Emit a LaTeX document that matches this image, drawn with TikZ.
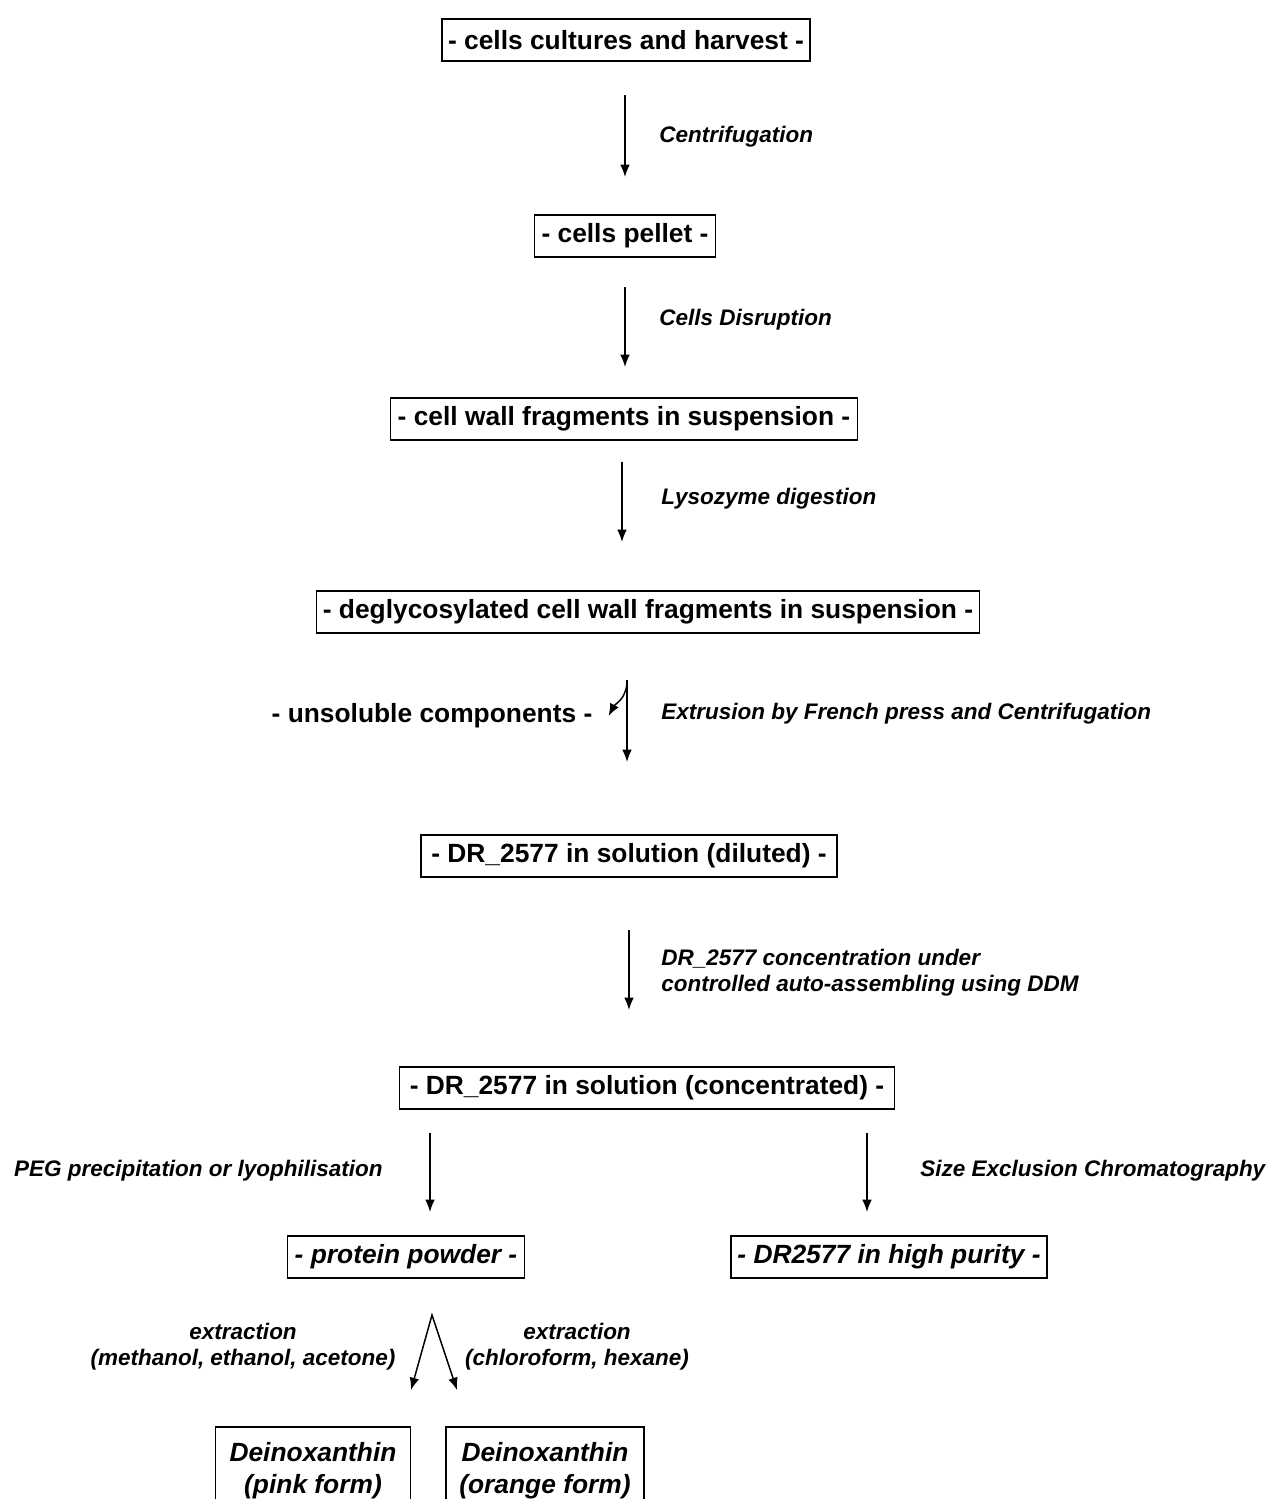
\documentclass[tikz,border=0pt]{standalone}
\usepackage{fontspec}
\setmainfont{Liberation Sans}
\usepackage{tikz}
\usetikzlibrary{arrows.meta,positioning,calc}

\tikzset{
    stepbox/.style={draw, line width=0.9pt, minimum height=0.84cm, inner xsep=2pt,
        font=\fontsize{15}{18}\selectfont\bfseries},
    istepbox/.style={stepbox, font=\fontsize{15}{18}\selectfont\bfseries\itshape},
    lbl/.style={inner sep=0pt, align=left, font=\fontsize{12.8}{14.8}\selectfont\bfseries\itshape},
    flow/.style={-{Latex[length=7pt,width=5.5pt]}, line width=0.85pt}
}

\begin{document}
\begin{tikzpicture}[x=0.02cm,y=-0.02cm]
    \useasboundingbox (0,0) rectangle (1278,1499);

    % boxes
    \node[stepbox, minimum width=7.36cm] (harvest) at (626,40) {- cells cultures and harvest -};
    \node[stepbox, minimum width=3.62cm] (pellet) at (625,236) {- cells pellet -};
    \node[stepbox, minimum width=9.34cm] (wall) at (624,419) {- cell wall fragments in suspension -};
    \node[stepbox, minimum width=13.26cm] (degly) at (648,612) {- deglycosylated cell wall fragments in suspension -};
    \node[stepbox, minimum width=8.32cm] (diluted) at (629,856) {- DR\_2577 in solution (diluted) -};
    \node[stepbox, minimum width=9.9cm] (conc) at (647,1088) {- DR\_2577 in solution (concentrated) -};
    \node[istepbox, minimum width=4.74cm] (powder) at (406,1257) {- protein powder -};
    \node[istepbox, minimum width=6.32cm] (purity) at (889,1257) {- DR2577 in high purity -};
    \node[istepbox, align=center, anchor=north, minimum width=3.9cm, inner ysep=9pt] (pink) at (313,1426) {Deinoxanthin\\(pink form)};
    \node[istepbox, align=center, anchor=north, minimum width=3.96cm, inner ysep=9pt] (orange) at (545,1426) {Deinoxanthin\\(orange form)};
    \node[font=\fontsize{15}{18}\selectfont\bfseries] (unsol) at (432,716) {- unsoluble components -};

    % arrow ends
    \coordinate (a1) at (625,95);   \coordinate (b1) at (625,177);
    \coordinate (a2) at (625,287);  \coordinate (b2) at (625,367);
    \coordinate (a3) at (622,462);  \coordinate (b3) at (622,542);
    \coordinate (a4) at (627,680);  \coordinate (b4) at (627,762);
    \coordinate (a5) at (629,930);  \coordinate (b5) at (629,1010);
    \coordinate (a6) at (430,1133); \coordinate (b6) at (430,1212);
    \coordinate (a7) at (867,1133); \coordinate (b7) at (867,1212);
    \coordinate (apex) at (432,1315);
    \coordinate (pinkend) at (411,1390);
    \coordinate (orangeend) at (457,1390);

    \draw[flow] (a1) -- (b1);
    \draw[flow] (a2) -- (b2);
    \draw[flow] (a3) -- (b3);
    \draw[flow] (a4) -- (b4);
    \draw[flow] (627,684) .. controls (625,700) and (615,704) .. ([xshift=0.2cm]unsol.east);
    \draw[flow] (a5) -- (b5);
    \draw[flow] (a6) -- (b6);
    \draw[flow] (a7) -- (b7);
    \draw[flow, {Latex[length=7pt,width=5.5pt]}-{Latex[length=7pt,width=5.5pt]}] (pinkend) -- (apex) -- (orangeend);

    % step labels
    \node[lbl, anchor=west] (centrif) at (659,137) {Centrifugation};
    \node[lbl, anchor=west] (disrupt) at (659,320) {Cells Disruption};
    \node[lbl, anchor=west] (lyso) at (661,499) {Lysozyme digestion};
    \node[lbl, anchor=west] (press) at (661,714) {Extrusion by French press and Centrifugation};
    \node[lbl, anchor=west] (ddm) at (661,973) {DR\_2577 concentration under\\controlled auto-assembling using DDM};
    \node[lbl, anchor=east] (peg) at (383,1171) {PEG precipitation or lyophilisation};
    \node[lbl, anchor=west] (sec) at (920,1171) {Size Exclusion Chromatography};
    \node[lbl, align=center] (extr1) at (243,1347) {extraction\\(methanol, ethanol, acetone)};
    \node[lbl, align=center] (extr2) at (577,1347) {extraction\\(chloroform, hexane)};
\end{tikzpicture}
\end{document}
